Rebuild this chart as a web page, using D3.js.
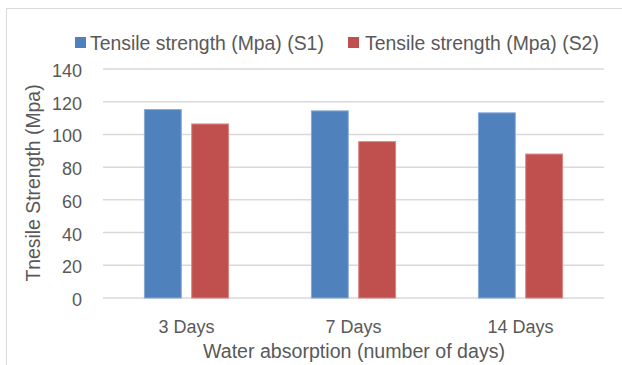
<!DOCTYPE html>
<html>
<head>
<meta charset="utf-8">
<script src="https://cdn.jsdelivr.net/npm/d3@7"></script>
<style>
  html, body { margin: 0; padding: 0; background: #fff; }
  svg { display: block; }
  text { font-family: "Liberation Sans", Arial, sans-serif; fill: #595959; }
</style>
</head>
<body>
<svg id="chart" width="622" height="365"></svg>
<script>
const categories = ["3 Days", "7 Days", "14 Days"];
const seriesNames = ["Tensile strength (Mpa) (S1)", "Tensile strength (Mpa) (S2)"];
const seriesKeys = ["S1", "S2"];
const s1Values = [115.5, 114.7, 113.5];
const s2Values = [106.7, 95.9, 88.3];
const yTicks = [0, 20, 40, 60, 80, 100, 120, 140];
const colors = ["#4f81bd", "#c0504d"];
const strokeColors = ["#86a9d6", "#d98583"];

const svg = d3.select("#chart");
const W = 622, H = 365;

// outer chart border
svg.append("rect")
  .attr("x", 6.5).attr("y", 8.5)
  .attr("width", W + 20).attr("height", H + 20)
  .attr("fill", "none").attr("stroke", "#d9d9d9").attr("stroke-width", 1);

const plot = { left: 103, right: 604, top: 69, bottom: 298 };

const x = d3.scaleBand().domain(categories)
  .range([plot.left, plot.right]).paddingInner(0.49).paddingOuter(0.245);
const xs = d3.scaleBand().domain(seriesKeys)
  .range([0, x.bandwidth()]).paddingInner(0.2).paddingOuter(0);
const y = d3.scaleLinear().domain([0, 140]).range([plot.bottom, plot.top]);

// gridlines
svg.append("g").selectAll("line").data(yTicks).join("line")
  .attr("x1", plot.left).attr("x2", plot.right)
  .attr("y1", d => y(d)).attr("y2", d => y(d))
  .attr("stroke", "#d9d9d9").attr("stroke-width", 1.5);

// y tick labels via axis
const yAxis = d3.axisLeft(y).tickValues(yTicks).tickSize(0).tickPadding(0);
const yg = svg.append("g").attr("transform", "translate(82,0)").call(yAxis);
yg.select(".domain").remove();
yg.selectAll("text").attr("font-size", 18).attr("dy", "0.42em")
  .style("font-family", '"Liberation Sans", Arial, sans-serif').attr("fill", "#595959");

// x tick labels via axis
const xAxis = d3.axisBottom(x).tickSize(0).tickPadding(0);
const xg = svg.append("g").attr("transform", "translate(0,320)").call(xAxis);
xg.select(".domain").remove();
xg.selectAll("text").attr("font-size", 18).attr("dy", "0.72em")
  .style("font-family", '"Liberation Sans", Arial, sans-serif').attr("fill", "#595959");

// bars
const data = categories.map((c, i) => ({ cat: c, values: [s1Values[i], s2Values[i]] }));
const groups = svg.append("g").selectAll("g").data(data).join("g")
  .attr("transform", d => `translate(${x(d.cat)},0)`);
groups.selectAll("rect").data(d => d.values.map((v, j) => ({ key: seriesKeys[j], v, j })))
  .join("rect")
  .attr("x", d => xs(d.key) + 0.5)
  .attr("width", xs.bandwidth() - 1)
  .attr("y", d => y(d.v) + 0.5)
  .attr("height", d => y(0) - y(d.v) - 0.5)
  .attr("fill", d => colors[d.j])
  .attr("stroke", d => strokeColors[d.j])
  .attr("stroke-width", 1);

// legend
const legendItems = [
  { name: seriesNames[0], color: colors[0], sx: 75, tx: 90 },
  { name: seriesNames[1], color: colors[1], sx: 348, tx: 365 }
];
const lg = svg.append("g");
lg.selectAll("rect").data(legendItems).join("rect")
  .attr("x", d => d.sx).attr("y", 37).attr("width", 11).attr("height", 11)
  .attr("fill", d => d.color);
lg.selectAll("text").data(legendItems).join("text")
  .attr("x", d => d.tx).attr("y", 50)
  .attr("font-size", 19.4)
  .text(d => d.name);

// axis titles
svg.append("text")
  .attr("x", 354).attr("y", 358)
  .attr("text-anchor", "middle").attr("font-size", 19.6)
  .text("Water absorption (number of days)");

svg.append("text")
  .attr("transform", "translate(40,183) rotate(-90)")
  .attr("text-anchor", "middle").attr("font-size", 19.4)
  .text("Tnesile Strength (Mpa)");
</script>
</body>
</html>
